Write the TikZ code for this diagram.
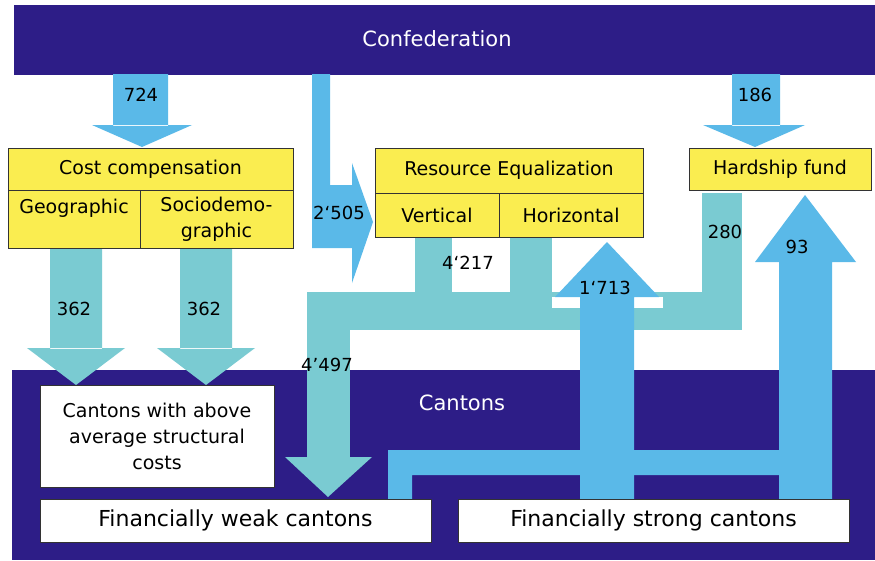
\documentclass[tikz,border=0pt]{standalone}
\usepackage{fontspec}
\setmainfont{DejaVu Sans}
\definecolor{cantonblue}{RGB}{45,29,135}
\definecolor{flowblue}{RGB}{90,185,232}
\definecolor{flowteal}{RGB}{122,203,210}
\definecolor{boxyellow}{RGB}{250,237,80}
\tikzstyle{bar}=[fill=cantonblue,inner sep=0pt]
\tikzstyle{bartext}=[text=white,font=\fontsize{21}{25}\selectfont]
\tikzstyle{cell}=[draw=black!80,line width=1pt,fill=boxyellow,inner sep=0pt,align=center,font=\fontsize{19}{26}\selectfont]
\tikzstyle{target}=[draw=black!80,line width=0.8pt,fill=white,inner sep=0pt,align=center]
\tikzstyle{amount}=[font=\fontsize{18}{20}\selectfont,inner sep=1pt]
\tikzstyle{flow}=[fill=flowblue]
\tikzstyle{share}=[fill=flowteal]

\begin{document}
\begin{tikzpicture}[x=1pt, y=-1pt]
    \useasboundingbox[fill=white] (0,0) rectangle (875,560);
    % First we draw the two levels
    \node[bar, minimum width=861pt, minimum height=70pt] (conf) at (444.5,40) {};
    \node[bar, minimum width=863pt, minimum height=190pt] (cant) at (443.5,465) {};
    \node[bartext] (conflabel) at (437,39) {Confederation};
    \node[bartext] (cantlabel) at (462,403) {Cantons};
    % Shares paid out of the two funds
    \fill[share] (415,236) rectangle (452,293);
    \fill[share] (510,236) rectangle (552,293);
    \fill[share] (702,193) rectangle (742,330);
    \fill[share] (307,292) rectangle (742,330);
    \fill[share] (307,292) rectangle (350,458);
    \fill[share] (285,457) -- (372,457) -- (328,497) -- cycle;
    \foreach \c in {76,206}
        \fill[share] (\c-26,247) rectangle (\c+26,349) (\c-49,348) -- (\c+49,348) -- (\c,385) -- cycle;
    % Payments of the confederation
    \fill[flow] (113,74) rectangle (168,126) (92,125) -- (192,125) -- (142,147) -- cycle;
    \fill[flow] (732,74) rectangle (780,126) (703,125) -- (805,125) -- (755,147) -- cycle;
    \fill[flow] (312,74) -- (330,74) -- (330,185) -- (352,185) -- (352,163) -- (373,222)
        -- (352,283) -- (352,248) -- (312,248) -- cycle;
    % Payments of the strong cantons
    \fill[flow] (388,500) -- (388,450) -- (779,450) -- (779,475) -- (412,475) -- (412,500) -- cycle;
    \fill[white] (552,297) rectangle (663,308);
    \fill[flow] (580,500) -- (580,297) -- (555,297) -- (607,242) -- (659,297) -- (634,297) -- (634,500) -- cycle;
    \fill[flow] (779,500) -- (779,262) -- (755,262) -- (805,195) -- (856,262) -- (832,262) -- (832,500) -- cycle;
    % Boxes of the cantons
    \node[target, font=\fontsize{19}{26}\selectfont, minimum width=234pt, minimum height=102pt] (above) at (157,436)
        {Cantons with above\\average structural\\costs};
    \node[target, font=\fontsize{22}{26}\selectfont, minimum width=391pt, minimum height=43pt] (weak) at (235.5,520.5)
        {Financially weak cantons};
    \node[target, font=\fontsize{22}{26}\selectfont, minimum width=391pt, minimum height=43pt] (strong) at (653.5,520.5)
        {Financially strong cantons};
    % Boxes of the funds
    \node[cell, minimum width=285pt, minimum height=42pt] (cost) at (150.5,169) {Cost compensation};
    \node[cell, minimum width=132pt, minimum height=58pt] (geo) at (74,219) {Geographic\\~};
    \node[cell, minimum width=153pt, minimum height=58pt] (socio) at (216.5,219) {Sociodemo-\\graphic};
    \node[cell, minimum width=268pt, minimum height=45pt] (res) at (509,170.5) {Resource Equalization};
    \node[cell, minimum width=124pt, minimum height=44pt] (vert) at (437,215) {Vertical};
    \node[cell, minimum width=144pt, minimum height=44pt] (horiz) at (571,215) {Horizontal};
    \node[cell, minimum width=182pt, minimum height=42pt] (hard) at (780,169) {Hardship fund};
    % Amounts
    \foreach \pos/\name/\val in {{(141,95)/a724/724}, {(755,95)/a186/186}, {(339,213)/a2505/2‘505},
        {(74,309)/a362g/362}, {(204,309)/a362s/362}, {(468,263)/a4217/4‘217}, {(327,365)/a4497/4’497},
        {(605,288)/a1713/1‘713}, {(725,232)/a280/280}, {(797,247)/a93/93}}
        \node[amount] (\name) at \pos {\val};
\end{tikzpicture}
\end{document}
